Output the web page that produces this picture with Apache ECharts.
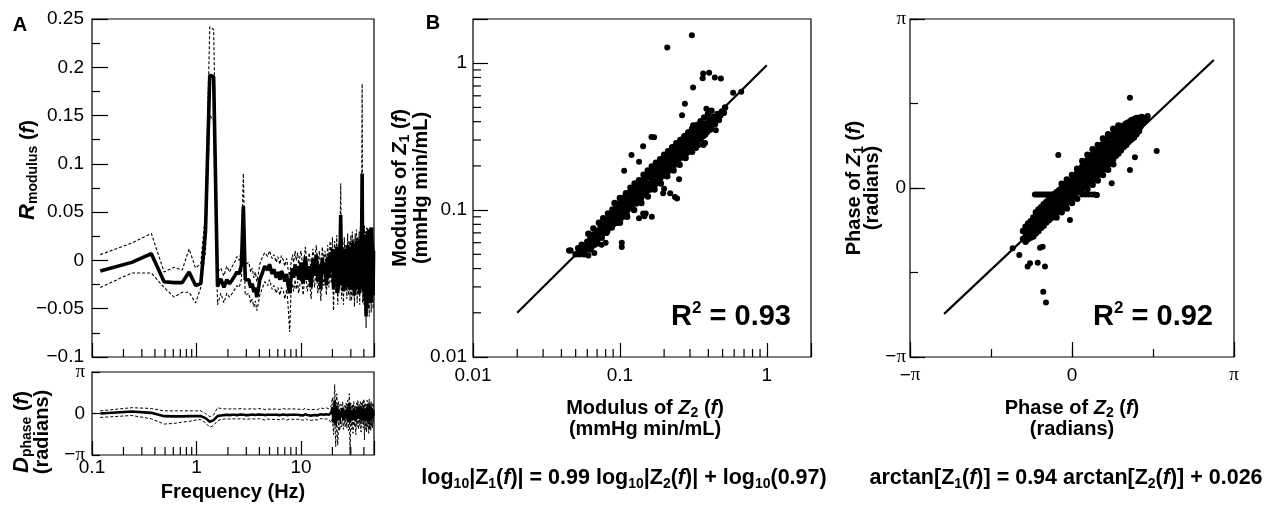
<!DOCTYPE html>
<html>
<head>
<meta charset="utf-8">
<script src="https://cdn.jsdelivr.net/npm/echarts@6/dist/echarts.min.js"></script>
<style>
  html, body { margin: 0; padding: 0; background: #fff; }
  #chart { width: 1268px; height: 507px; }
</style>
</head>
<body>
<div id="chart"></div>
<script>
// frequency bins (Hz)
const freq = [
  0.12, 0.24, 0.37, 0.49, 0.61, 0.73, 0.85, 0.98, 1.1, 1.22, 1.34, 1.46, 1.59, 1.71, 1.83, 1.95, 2.07, 2.2, 2.32, 2.44,
  2.56, 2.69, 2.81, 2.93, 3.05, 3.17, 3.3, 3.42, 3.54, 3.66, 3.78, 3.91, 4.03,
  4.3, 4.5, 4.8, 5.0, 5.3, 5.5, 5.8, 6.0, 6.3, 6.5, 6.8, 7.0, 7.3, 7.5, 7.8, 8.0, 8.3, 8.5, 8.8, 9.0, 9.3, 9.5, 9.8,
  10, 10.5, 11, 11.5, 12, 12.5, 13, 13.5, 14, 14.5, 15, 15.5, 16, 16.5, 17, 17.5, 18, 18.5, 19, 19.5,
  20, 20.5, 21, 21.5, 22, 22.5, 23, 23.5, 24, 24.5, 25, 25.5, 26, 26.5, 27, 27.5, 28, 28.5, 29, 29.5,
  30, 30.5, 31, 31.5, 32, 32.5, 33, 33.5, 34, 34.5, 35, 35.5, 36, 36.5, 37, 37.5, 38, 38.5, 39, 39.5,
  40, 40.5, 41, 41.5, 42, 42.5, 43, 43.5, 44, 44.5, 45, 45.5, 46, 46.5, 47, 47.5, 48, 48.5, 49, 49.5
]

// R_modulus(f): mean and dashed band
const rMean = [
  -0.011, -0.002, 0.007, -0.022, -0.023, -0.023, -0.012, -0.026, -0.024, 0.03, 0.192, 0.19, -0.027, -0.019, -0.028, -0.02, -0.024, -0.02, -0.016, -0.012,
  -0.014, -0.005, 0.056, -0.02, -0.022, -0.02, -0.028, -0.024, -0.033, -0.028, -0.038, -0.03, -0.02,
  -0.012, -0.006, -0.01, -0.004, -0.014, -0.009, -0.018, -0.012, -0.02, -0.011, -0.016, -0.022, -0.014, -0.025, -0.034, -0.02, -0.008, -0.018, -0.004, -0.016, -0.006, -0.02, -0.01,
  -0.002, -0.024, 0.004, -0.02, -0.006, -0.028, 0.002, -0.016, 0.006, -0.022, -0.004, -0.03, 0.003, -0.014, -0.002, -0.026, 0.004, -0.018, 0.008, -0.012,
  0.012, -0.03, 0.01, -0.022, 0.014, -0.034, 0.006, -0.018, 0.047, -0.026, 0.01, -0.032, 0.012, -0.02, 0.004, -0.028, 0.016, -0.024, 0.008, -0.03,
  0.014, -0.03, 0.018, -0.026, 0.01, -0.036, 0.016, -0.02, 0.02, -0.03, 0.012, -0.024, 0.018, -0.034, 0.022, -0.02, 0.016, 0.09, -0.03, 0.02,
  -0.032, 0.024, -0.04, 0.018, -0.058, 0.026, -0.03, 0.03, -0.036, 0.02, -0.044, 0.032, -0.028, 0.022, -0.04, 0.034, -0.03, 0.016, -0.036, 0.01
]
const rUpper = [
  0.006, 0.018, 0.028, -0.012, -0.007, -0.01, 0.012, -0.008, -0.003, 0.05, 0.242, 0.239, -0.012, -0.008, -0.016, -0.006, -0.012, -0.006, -0.002, 0.004,
  0.0, 0.01, 0.09, -0.004, -0.006, -0.002, -0.012, -0.008, -0.018, -0.012, -0.022, -0.014, -0.004,
  0.004, 0.008, 0.004, 0.01, 0.002, 0.006, -0.002, 0.004, -0.004, 0.005, 0.0, -0.006, 0.002, -0.008, -0.016, -0.004, 0.006, -0.002, 0.01, 0.0, 0.008, -0.004, 0.005,
  0.01, -0.01, 0.014, -0.006, 0.008, -0.012, 0.012, -0.002, 0.016, -0.008, 0.01, -0.014, 0.014, 0.0, 0.01, -0.01, 0.016, -0.004, 0.02, 0.002,
  0.024, -0.016, 0.02, -0.008, 0.026, -0.018, 0.018, -0.004, 0.08, -0.012, 0.022, -0.016, 0.024, -0.006, 0.016, -0.014, 0.028, -0.01, 0.02, -0.014,
  0.026, -0.014, 0.03, -0.01, 0.022, -0.02, 0.028, -0.006, 0.032, -0.014, 0.024, -0.008, 0.03, -0.018, 0.034, -0.004, 0.028, 0.183, -0.014, 0.032,
  -0.016, 0.036, -0.022, 0.03, -0.04, 0.034, -0.014, 0.034, -0.02, 0.03, -0.028, 0.034, -0.012, 0.032, -0.024, 0.034, -0.014, 0.028, -0.02, 0.022
]
const rLower = [
  -0.028, -0.013, -0.013, -0.028, -0.038, -0.033, -0.033, -0.044, -0.028, 0.01, 0.15, 0.145, -0.046, -0.034, -0.044, -0.034, -0.038, -0.034, -0.03, -0.026,
  -0.028, -0.02, 0.03, -0.036, -0.038, -0.034, -0.044, -0.04, -0.048, -0.042, -0.052, -0.044, -0.036,
  -0.028, -0.022, -0.026, -0.02, -0.03, -0.026, -0.034, -0.028, -0.036, -0.028, -0.032, -0.04, -0.03, -0.044, -0.074, -0.036, -0.024, -0.032, -0.02, -0.03, -0.022, -0.034, -0.024,
  -0.014, -0.036, -0.01, -0.032, -0.018, -0.04, -0.012, -0.028, -0.008, -0.034, -0.016, -0.042, -0.01, -0.026, -0.014, -0.036, -0.008, -0.028, -0.004, -0.024,
  -0.004, -0.052, -0.004, -0.034, 0.0, -0.046, -0.008, -0.03, 0.02, -0.04, -0.004, -0.046, -0.002, -0.032, -0.008, -0.04, 0.002, -0.036, -0.006, -0.042,
  0.0, -0.042, 0.004, -0.038, -0.004, -0.048, 0.002, -0.032, 0.006, -0.044, -0.002, -0.036, 0.004, -0.046, 0.008, -0.032, 0.002, 0.03, -0.044, 0.006,
  -0.046, 0.01, -0.054, 0.004, -0.07, 0.012, -0.044, 0.016, -0.05, 0.006, -0.058, 0.018, -0.042, 0.008, -0.054, 0.02, -0.044, 0.002, -0.05, -0.004
]

// D_phase(f) in radians: mean and dashed band
const dMean = [
  0, 0.15, 0.05, -0.2, -0.22, -0.22, -0.2, -0.2, -0.2, -0.35, -0.62, -0.5, -0.2, -0.15, -0.12, -0.1, -0.12, -0.1, -0.1, -0.12,
  -0.1, -0.08, -0.1, -0.12, -0.1, -0.12, -0.1, -0.08, -0.1, -0.12, -0.1, -0.08, -0.1,
  -0.1, -0.12, -0.1, -0.08, -0.1, -0.12, -0.1, -0.1, -0.12, -0.1, -0.08, -0.1, -0.12, -0.1, -0.1, -0.12, -0.1, -0.08, -0.1, -0.12, -0.1, -0.1, -0.12,
  -0.08, -0.14, -0.06, -0.12, -0.1, -0.16, -0.05, -0.12, -0.08, -0.14, -0.1, -0.06, -0.15, -0.09, -0.12, -0.05, -0.14, -0.1, -0.2, 0.05,
  0.5, -0.7, 1.0, -0.9, 0.6, -0.5, 0.3, -0.6, 0.2, -0.3, 0.4, -0.5, 0.2, -0.4, 0.3, -0.3, 0.5, -0.6, 0.8, -0.7,
  0.3, -0.4, 0.2, -0.5, 0.4, -0.3, 0.2, -0.6, 0.3, -0.3, 0.5, -0.4, 0.2, -0.3, 0.4, -0.5, 0.3, -0.2, 0.4, -0.4,
  0.4, -0.6, 0.3, -0.4, 0.2, -0.5, 0.5, -0.3, 0.3, -0.6, 0.6, -0.4, 0.3, -0.5, 0.4, -0.3, 0.2, -0.4, 0.3, -0.2
]
const dUpper = [
  0.2, 0.44, 0.38, 0.2, 0.2, 0.2, 0.2, 0.2, 0.2, 0.0, -0.24, -0.1, 0.44, 0.38, 0.35, 0.36, 0.34, 0.36, 0.35, 0.34,
  0.36, 0.37, 0.35, 0.33, 0.36, 0.34, 0.35, 0.37, 0.35, 0.33, 0.36, 0.37, 0.35,
  0.35, 0.3, 0.34, 0.38, 0.32, 0.3, 0.35, 0.33, 0.3, 0.36, 0.38, 0.34, 0.3, 0.33, 0.36, 0.32, 0.35, 0.38, 0.34, 0.3, 0.33, 0.36, 0.32,
  0.38, 0.3, 0.4, 0.32, 0.36, 0.28, 0.42, 0.32, 0.38, 0.3, 0.36, 0.42, 0.28, 0.36, 0.33, 0.42, 0.3, 0.36, 0.45, 0.6,
  1.2, -0.2, 2.2, 0.3, 1.5, 0.2, 0.9, -0.1, 0.7, 0.3, 0.9, 0.1, 0.6, 0.2, 0.8, 0.3, 1.0, 0.1, 1.5, 0.0,
  0.8, 0.1, 0.7, 0.0, 0.9, 0.2, 0.6, -0.1, 0.8, 0.2, 1.0, 0.0, 0.7, 0.3, 0.9, -0.1, 0.8, 0.3, 0.9, 0.1,
  1.1, 0.0, 0.8, 0.1, 0.7, -0.1, 1.0, 0.2, 0.8, 0.0, 1.1, 0.1, 0.8, 0.0, 0.9, 0.2, 0.7, 0.1, 0.8, 0.2
]
const dLower = [
  -0.3, -0.15, -0.4, -0.8, -0.75, -0.65, -0.6, -0.5, -0.45, -0.7, -1.05, -0.9, -0.55, -0.45, -0.42, -0.4, -0.42, -0.4, -0.41, -0.43,
  -0.4, -0.39, -0.41, -0.43, -0.4, -0.42, -0.41, -0.39, -0.41, -0.43, -0.4, -0.39, -0.41,
  -0.45, -0.5, -0.42, -0.4, -0.46, -0.5, -0.44, -0.42, -0.48, -0.45, -0.4, -0.44, -0.5, -0.46, -0.42, -0.48, -0.44, -0.4, -0.45, -0.5, -0.43, -0.41, -0.47,
  -0.42, -0.5, -0.38, -0.48, -0.44, -0.52, -0.4, -0.46, -0.42, -0.5, -0.44, -0.38, -0.52, -0.44, -0.48, -0.4, -0.5, -0.46, -0.6, -0.7,
  -0.3, -1.6, 0.2, -2.5, -0.2, -2.4, -0.4, -1.3, -0.5, -1.0, -0.3, -1.2, -0.4, -1.0, -0.3, -1.1, -0.2, -1.3, 0.1, -3.1,
  -0.3, -1.2, -0.4, -1.5, -0.2, -1.0, -0.5, -1.6, -0.3, -1.0, -0.1, -1.2, -0.4, -0.9, -0.2, -1.4, -0.3, -0.8, -0.2, -1.1,
  -0.2, -2.0, -0.3, -1.2, -0.5, -1.4, -0.1, -1.0, -0.3, -1.5, 0.0, -1.2, -0.3, -1.3, -0.2, -1.0, -0.5, -1.1, -0.3, -0.8
]

// minor tick positions on the log axes
const freqMinorTicks = [0.2, 0.3, 0.4, 0.5, 0.6, 0.7, 0.8, 0.9, 2, 3, 4, 5, 6, 7, 8, 9, 20, 30, 40]
const modMinorTicks = [0.02, 0.03, 0.04, 0.05, 0.06, 0.07, 0.08, 0.09, 0.2, 0.3, 0.4, 0.5, 0.6, 0.7, 0.8, 0.9]

// B: modulus of Z2 (x) vs modulus of Z1 (y)
const modCore = [
  [0.046, 0.053], [0.05, 0.05], [0.052, 0.055], [0.053, 0.05], [0.055, 0.058], [0.056, 0.053], [0.057, 0.05], [0.058, 0.056],
  [0.06, 0.061], [0.06, 0.054], [0.062, 0.058], [0.063, 0.064], [0.064, 0.056], [0.065, 0.061], [0.066, 0.068], [0.067, 0.058],
  [0.068, 0.064], [0.07, 0.072], [0.07, 0.062], [0.071, 0.067], [0.073, 0.07], [0.074, 0.077], [0.075, 0.065], [0.076, 0.072],
  [0.078, 0.08], [0.079, 0.07], [0.08, 0.075], [0.081, 0.085], [0.082, 0.072], [0.083, 0.079], [0.085, 0.09], [0.086, 0.077],
  [0.087, 0.083], [0.088, 0.095], [0.09, 0.08], [0.09, 0.088], [0.092, 0.098], [0.093, 0.084], [0.095, 0.092], [0.096, 0.104],
  [0.097, 0.086], [0.098, 0.095], [0.1, 0.108], [0.1, 0.09], [0.102, 0.1], [0.104, 0.112], [0.105, 0.094], [0.106, 0.104],
  [0.108, 0.118], [0.11, 0.098], [0.111, 0.108], [0.113, 0.122], [0.114, 0.102], [0.116, 0.114], [0.118, 0.128], [0.12, 0.106],
  [0.121, 0.118], [0.123, 0.134], [0.125, 0.112], [0.126, 0.124], [0.128, 0.14], [0.13, 0.115], [0.132, 0.128], [0.134, 0.146],
  [0.136, 0.12], [0.138, 0.134], [0.14, 0.152], [0.142, 0.126], [0.144, 0.14], [0.147, 0.16], [0.149, 0.132], [0.151, 0.146],
  [0.154, 0.168], [0.156, 0.138], [0.158, 0.152], [0.161, 0.175], [0.163, 0.145], [0.166, 0.16], [0.169, 0.184], [0.171, 0.152],
  [0.174, 0.168], [0.177, 0.192], [0.18, 0.158], [0.183, 0.176], [0.186, 0.2], [0.189, 0.166], [0.192, 0.184], [0.196, 0.21],
  [0.199, 0.175], [0.203, 0.194], [0.207, 0.22], [0.21, 0.184], [0.214, 0.204], [0.218, 0.232], [0.222, 0.194], [0.226, 0.214],
  [0.23, 0.244], [0.234, 0.204], [0.238, 0.226], [0.243, 0.256], [0.247, 0.216], [0.252, 0.238], [0.257, 0.27], [0.261, 0.228],
  [0.266, 0.25], [0.272, 0.284], [0.277, 0.24], [0.282, 0.264], [0.288, 0.3], [0.293, 0.254], [0.299, 0.278], [0.305, 0.316],
  [0.31, 0.27], [0.316, 0.294], [0.322, 0.332], [0.328, 0.286], [0.335, 0.31], [0.342, 0.35], [0.348, 0.302], [0.355, 0.328],
  [0.362, 0.37], [0.369, 0.32], [0.376, 0.346], [0.384, 0.388], [0.391, 0.34], [0.399, 0.366], [0.408, 0.41], [0.416, 0.36],
  [0.425, 0.388], [0.434, 0.43], [0.443, 0.384], [0.452, 0.41], [0.462, 0.452], [0.472, 0.41], [0.482, 0.44], [0.495, 0.47],
  [0.51, 0.46], [0.52, 0.5],
  [0.092, 0.112], [0.1, 0.121], [0.11, 0.13], [0.118, 0.142], [0.126, 0.152], [0.135, 0.16], [0.145, 0.174], [0.155, 0.186],
  [0.165, 0.198], [0.176, 0.21], [0.188, 0.222], [0.2, 0.238], [0.213, 0.252], [0.227, 0.268], [0.242, 0.285], [0.258, 0.3],
  [0.275, 0.318], [0.292, 0.338], [0.31, 0.356], [0.33, 0.374],
  [0.1, 0.082], [0.112, 0.09], [0.125, 0.1], [0.14, 0.112], [0.155, 0.124], [0.172, 0.138], [0.19, 0.152], [0.21, 0.17],
  [0.232, 0.186], [0.255, 0.204], [0.28, 0.226], [0.31, 0.25], [0.34, 0.278],
  [0.061, 0.069], [0.066, 0.075], [0.072, 0.082], [0.077, 0.088], [0.083, 0.095], [0.089, 0.101], [0.095, 0.108], [0.101, 0.115],
  [0.107, 0.122], [0.114, 0.13], [0.121, 0.138], [0.129, 0.147], [0.137, 0.156], [0.146, 0.166], [0.155, 0.177], [0.164, 0.187],
  [0.174, 0.198], [0.185, 0.211], [0.196, 0.223], [0.208, 0.237], [0.221, 0.252], [0.235, 0.268], [0.249, 0.284], [0.264, 0.301],
  [0.28, 0.319], [0.297, 0.339], [0.315, 0.359], [0.334, 0.38], [0.354, 0.403], [0.375, 0.427], [0.398, 0.452], [0.42, 0.475],
  [0.063, 0.054], [0.069, 0.059], [0.075, 0.065], [0.081, 0.07], [0.088, 0.076], [0.095, 0.082], [0.103, 0.089], [0.111, 0.095],
  [0.12, 0.103], [0.129, 0.111], [0.139, 0.12], [0.15, 0.129], [0.161, 0.138], [0.173, 0.149], [0.186, 0.16], [0.2, 0.172],
  [0.215, 0.185], [0.231, 0.199], [0.248, 0.213], [0.266, 0.229], [0.286, 0.246], [0.307, 0.264], [0.33, 0.284], [0.354, 0.304],
  [0.38, 0.327], [0.41, 0.352]
]
const modOutliers = [
  [0.309, 1.55], [0.21, 1.28], [0.369, 0.85], [0.405, 0.86], [0.443, 0.8], [0.487, 0.787], [0.366, 0.79], [0.315, 0.683],
  [0.277, 0.53], [0.59, 0.63], [0.67, 0.64], [0.265, 0.443], [0.12, 0.237], [0.107, 0.185], [0.164, 0.315], [0.171, 0.313],
  [0.144, 0.272], [0.135, 0.213], [0.237, 0.123], [0.245, 0.12], [0.253, 0.162], [0.144, 0.095], [0.15, 0.095], [0.103, 0.06],
  [0.103, 0.056], [0.045, 0.053], [0.056, 0.05], [0.061, 0.049], [0.067, 0.051], [0.388, 0.49], [0.45, 0.35], [0.37, 0.277],
  [0.33, 0.265], [0.2, 0.14], [0.22, 0.13], [0.08, 0.06], [0.075, 0.058], [0.197, 0.13], [0.147, 0.091], [0.165, 0.09],
  [0.135, 0.088], [0.38, 0.286], [0.315, 0.378]
]
const modFit = [[0.02, 0.02], [1, 0.97]]

// C: phase of Z2 (x) vs phase of Z1 (y), radians
const phaseCore = [
  [-0.95, -0.95], [-0.95, -0.8], [-0.9, -0.72], [-0.9, -0.9], [-0.9, -1.0], [-0.85, -0.66], [-0.85, -0.84], [-0.85, -0.95],
  [-0.8, -0.62], [-0.8, -0.78], [-0.8, -0.92], [-0.75, -0.55], [-0.75, -0.72], [-0.75, -0.9], [-0.7, -0.45], [-0.7, -0.66],
  [-0.7, -0.84], [-0.65, -0.4], [-0.65, -0.6], [-0.65, -0.8], [-0.6, -0.36], [-0.6, -0.55], [-0.6, -0.74], [-0.55, -0.3],
  [-0.55, -0.5], [-0.55, -0.7], [-0.5, -0.26], [-0.5, -0.46], [-0.5, -0.64], [-0.45, -0.2], [-0.45, -0.42], [-0.45, -0.6],
  [-0.4, -0.16], [-0.4, -0.36], [-0.4, -0.56], [-0.35, -0.12], [-0.35, -0.32], [-0.35, -0.5], [-0.3, -0.08], [-0.3, -0.27],
  [-0.3, -0.46], [-0.25, -0.04], [-0.25, -0.22], [-0.25, -0.42], [-0.2, 0.0], [-0.2, -0.18], [-0.2, -0.36], [-0.15, 0.04],
  [-0.15, -0.14], [-0.15, -0.32], [-0.1, 0.08], [-0.1, -0.1], [-0.1, -0.28], [-0.05, 0.1], [-0.05, -0.05], [-0.05, -0.22],
  [0, 0.14], [0, 0.0], [0, -0.18], [0.05, 0.2], [0.05, 0.04], [0.05, -0.12], [0.1, 0.28], [0.1, 0.09], [0.1, -0.08],
  [0.15, 0.34], [0.15, 0.14], [0.15, -0.04], [0.2, 0.4], [0.2, 0.18], [0.2, 0.0], [0.25, 0.46], [0.25, 0.23], [0.25, 0.04],
  [0.3, 0.52], [0.3, 0.27], [0.3, 0.08], [0.35, 0.58], [0.35, 0.32], [0.35, 0.12], [0.4, 0.62], [0.4, 0.36], [0.4, 0.16],
  [0.45, 0.66], [0.45, 0.41], [0.45, 0.2], [0.5, 0.7], [0.5, 0.45], [0.5, 0.24], [0.55, 0.76], [0.55, 0.5], [0.55, 0.3],
  [0.6, 0.82], [0.6, 0.54], [0.6, 0.34], [0.65, 0.86], [0.65, 0.6], [0.65, 0.4], [0.7, 0.9], [0.7, 0.64], [0.7, 0.44],
  [0.75, 0.96], [0.75, 0.68], [0.75, 0.5], [0.8, 1.0], [0.8, 0.72], [0.8, 0.54], [0.85, 1.04], [0.85, 0.78], [0.85, 0.6],
  [0.9, 1.08], [0.9, 0.82], [0.9, 0.64], [0.95, 1.12], [0.95, 0.86], [0.95, 0.7], [1.0, 1.16], [1.0, 0.9], [1.0, 0.76],
  [1.05, 1.2], [1.05, 0.96], [1.05, 0.8], [1.1, 1.22], [1.1, 1.0], [1.1, 0.86], [1.15, 1.26], [1.15, 1.04], [1.15, 0.9],
  [1.2, 1.28], [1.2, 1.08], [1.2, 0.94], [1.25, 1.3], [1.25, 1.12], [1.25, 1.0], [1.3, 1.3], [1.3, 1.16], [1.3, 1.06],
  [1.35, 1.32], [1.35, 1.22], [1.4, 1.3], [1.4, 1.26], [1.45, 1.28],
  [-0.875, -0.78], [-0.875, -0.92], [-0.825, -0.72], [-0.825, -0.87], [-0.775, -0.67], [-0.775, -0.83], [-0.725, -0.6], [-0.725, -0.78],
  [-0.675, -0.53], [-0.675, -0.72], [-0.625, -0.48], [-0.625, -0.67], [-0.575, -0.43], [-0.575, -0.62], [-0.525, -0.38], [-0.525, -0.56],
  [-0.475, -0.34], [-0.475, -0.53], [-0.425, -0.28], [-0.425, -0.48], [-0.375, -0.24], [-0.375, -0.44], [-0.325, -0.2], [-0.325, -0.39],
  [-0.275, -0.15], [-0.275, -0.34], [-0.225, -0.11], [-0.225, -0.3], [-0.175, -0.07], [-0.175, -0.25], [-0.125, -0.03], [-0.125, -0.21],
  [-0.075, 0.01], [-0.075, -0.16], [-0.025, 0.05], [-0.025, -0.11], [0.025, 0.1], [0.025, -0.07], [0.075, 0.15], [0.075, -0.02],
  [0.125, 0.21], [0.125, 0.03], [0.175, 0.27], [0.175, 0.08], [0.225, 0.32], [0.225, 0.11], [0.275, 0.37], [0.275, 0.16],
  [0.325, 0.42], [0.325, 0.2], [0.375, 0.47], [0.375, 0.24], [0.425, 0.51], [0.425, 0.28], [0.475, 0.56], [0.475, 0.33],
  [0.525, 0.6], [0.525, 0.37], [0.575, 0.66], [0.575, 0.42], [0.625, 0.7], [0.625, 0.47], [0.675, 0.75], [0.675, 0.52],
  [0.725, 0.8], [0.725, 0.56], [0.775, 0.84], [0.775, 0.61], [0.825, 0.88], [0.825, 0.66], [0.875, 0.93], [0.875, 0.71],
  [0.925, 0.97], [0.925, 0.75], [0.975, 1.01], [0.975, 0.8], [1.025, 1.06], [1.025, 0.86], [1.075, 1.1], [1.075, 0.9],
  [1.125, 1.13], [1.125, 0.95], [1.175, 1.16], [1.175, 0.99], [1.225, 1.2], [1.225, 1.04], [1.275, 1.22], [1.275, 1.08],
  [1.325, 1.25], [1.325, 1.14],
  [-0.2, 0.08], [-0.1, 0.16], [0.0, 0.24], [0.1, 0.36], [0.2, 0.5], [0.3, 0.62], [0.4, 0.72], [0.5, 0.8], [0.6, 0.92],
  [0.7, 1.0], [0.8, 1.1], [0.9, 1.16], [-0.3, -0.55], [-0.2, -0.45], [-0.1, -0.38], [0.0, -0.28], [0.1, -0.2], [0.2, -0.1],
  [0.3, -0.02], [0.4, 0.06], [0.5, 0.14], [0.6, 0.24], [0.7, 0.34], [0.8, 0.44]
]
const phaseStreak = [
  [-0.72, -0.12], [-0.68, -0.12], [-0.64, -0.12], [-0.6, -0.12], [-0.56, -0.12], [-0.52, -0.12], [-0.48, -0.12], [-0.44, -0.12],
  [-0.4, -0.12], [-0.36, -0.12], [-0.32, -0.12], [0.2, -0.12], [0.26, -0.12], [0.32, -0.12], [0.38, -0.12], [0.44, -0.12], [0.48, -0.13]
]
const phaseOutliers = [
  [1.124, 1.678], [-0.266, 0.613], [1.642, 0.687], [1.124, 0.334], [1.22, 0.57], [0.8, 1.09], [1.468, 1.338], [0.77, 0.087],
  [0.479, -0.13], [-0.04, -0.595], [-0.879, -0.843], [-1.022, -1.246], [-0.815, -1.4], [-0.86, -1.46], [-0.665, -1.39],
  [-0.524, -1.46], [-0.62, -1.11], [-0.57, -1.09], [-0.557, -1.93], [-0.505, -2.13], [-1.15, -1.12]
]
const phaseFit = [[-2.48, -2.34], [2.75, 2.38]]

const PI = Math.PI
const SANS = 'Liberation Sans'
const SERIF = 'Liberation Serif'
const BLACK = '#000'
const tickLine = { color: BLACK, width: 1.2 }

const near = (a, b) => Math.abs(a - b) < 1e-9 * Math.max(1, Math.abs(b))
const minus = s => s.replace('-', '\u2212')

const labelBase = { color: BLACK, fontFamily: SANS, fontSize: 19 }
const piRich = { p: { fontFamily: SERIF, fontSize: 19, color: BLACK } }
const piFormatter = v => (near(v, PI) ? '{p|π}' : near(v, -PI) ? '\u2212{p|π}' : near(v, 0) ? '0' : '')
const decadeFormatter = list => v => (list.some(t => near(v, t)) ? String(+v.toPrecision(3)) : '')

function axis(gridIndex, pos, extra) {
  return Object.assign({
    gridIndex,
    position: pos,
    offset: 0,
    axisLine: { show: false, onZero: false },
    splitLine: { show: false },
    axisTick: { inside: true, length: 14, lineStyle: tickLine }
  }, extra)
}

// short ticks at 2..9 multiples on log axes, placed through the axis scale
function minorTicks(xi, yi, values, dir, fixed, len) {
  return {
    type: 'custom',
    xAxisIndex: xi,
    yAxisIndex: yi,
    silent: true,
    clip: false,
    data: values.map(v => (dir === 'x' ? [v, fixed] : [fixed, v])),
    renderItem: (params, api) => {
      const p = api.coord([api.value(0), api.value(1)])
      const q = dir === 'x' ? [p[0], p[1] - len] : [p[0] + len, p[1]]
      return {
        type: 'line',
        shape: { x1: p[0], y1: p[1], x2: q[0], y2: q[1] },
        style: { stroke: BLACK, lineWidth: 1.2 }
      }
    }
  }
}

const lineSeries = (xi, yi, ys, width, dashed) => ({
  type: 'line',
  xAxisIndex: xi,
  yAxisIndex: yi,
  data: freq.map((f, i) => [f, ys[i]]),
  showSymbol: false,
  silent: true,
  lineStyle: { color: BLACK, width, type: dashed ? [3, 2] : 'solid' },
  z: dashed ? 3 : 4
})

const dotSeries = (xi, yi, data, size) => ({
  type: 'scatter',
  xAxisIndex: xi,
  yAxisIndex: yi,
  data,
  symbolSize: size,
  silent: true,
  itemStyle: { color: BLACK, opacity: 1 }
})

const fitSeries = (xi, yi, data) => ({
  type: 'line',
  xAxisIndex: xi,
  yAxisIndex: yi,
  data,
  showSymbol: false,
  silent: true,
  lineStyle: { color: BLACK, width: 2.2 },
  z: 5
})

// rich text styles for titles
const T = 20
const E = 21.5
const st = (size, extra) => Object.assign({ fontFamily: SANS, fontWeight: 'bold', fontSize: size, fill: BLACK, color: BLACK }, extra)
const rich = {
  b: st(T, { lineHeight: 24 }),
  bi: st(T, { fontStyle: 'italic', lineHeight: 24 }),
  big: st(22, { fontStyle: 'italic', lineHeight: 24 }),
  sub: st(14, { lineHeight: 15, verticalAlign: 'bottom' }),
  e: st(E, { lineHeight: 26 }),
  ei: st(E, { fontStyle: 'italic', lineHeight: 26 }),
  es: st(14, { lineHeight: 15, verticalAlign: 'bottom' }),
  r: st(29, { lineHeight: 34 }),
  sup: st(17, { lineHeight: 17, verticalAlign: 'top' })
}

function text(x, y, str, rotate) {
  return {
    type: 'text',
    x,
    y,
    rotation: rotate ? PI / 2 : 0,
    silent: true,
    style: {
      text: str,
      rich,
      fill: BLACK,
      fontFamily: SANS,
      fontWeight: 'bold',
      fontSize: T,
      align: 'center',
      verticalAlign: 'middle',
      textAlign: 'center',
      textVerticalAlign: 'middle'
    }
  }
}

const chart = echarts.init(document.getElementById('chart'), null, { renderer: 'canvas' })

const gridStyle = { show: true, borderColor: BLACK, borderWidth: 1.2, backgroundColor: 'transparent' }

const option = {
  animation: false,
  backgroundColor: '#fff',
  grid: [
    Object.assign({ left: 92, top: 19, width: 282, height: 338 }, gridStyle),
    Object.assign({ left: 92, top: 372, width: 282, height: 83 }, gridStyle),
    Object.assign({ left: 473, top: 19, width: 338, height: 338 }, gridStyle),
    Object.assign({ left: 910, top: 19, width: 324, height: 338 }, gridStyle)
  ],
  xAxis: [
    axis(0, 'bottom', { type: 'log', logBase: 10, min: 0.1, max: 50, axisLabel: { show: false } }),
    axis(1, 'bottom', {
      type: 'log', logBase: 10, min: 0.1, max: 50,
      axisLabel: Object.assign({ margin: 3, formatter: decadeFormatter([0.1, 1, 10]) }, labelBase)
    }),
    axis(2, 'bottom', {
      type: 'log', logBase: 10, min: 0.01, max: 2,
      axisLabel: Object.assign({ margin: 9, formatter: decadeFormatter([0.01, 0.1, 1]) }, labelBase)
    }),
    axis(3, 'bottom', {
      type: 'value', min: -PI, max: PI, interval: PI / 2,
      axisTick: { inside: true, length: 8, lineStyle: tickLine },
      axisLabel: Object.assign({ margin: 9, formatter: piFormatter, rich: piRich }, labelBase)
    }),
    axis(3, 'bottom', {
      type: 'value', min: -PI, max: PI, interval: PI,
      axisTick: { inside: true, length: 15, lineStyle: tickLine },
      axisLabel: { show: false }
    })
  ],
  yAxis: [
    axis(0, 'left', {
      type: 'value', min: -0.1, max: 0.25, interval: 0.05,
      axisTick: { inside: true, length: 16, lineStyle: tickLine },
      minorTick: { show: true, splitNumber: 2, length: 8, lineStyle: tickLine },
      axisLabel: Object.assign({ margin: 8, formatter: v => minus(String(Math.round(v * 1000) / 1000)) }, labelBase)
    }),
    axis(1, 'left', {
      type: 'value', min: -PI, max: PI, interval: PI,
      axisTick: { inside: true, length: 8, lineStyle: tickLine },
      axisLabel: Object.assign({ margin: 7, formatter: piFormatter, rich: piRich }, labelBase)
    }),
    axis(2, 'left', {
      type: 'log', logBase: 10, min: 0.01, max: 2,
      axisTick: { inside: true, length: 15, lineStyle: tickLine },
      axisLabel: Object.assign({ margin: 6, formatter: decadeFormatter([0.01, 0.1, 1]) }, labelBase)
    }),
    axis(3, 'left', {
      type: 'value', min: -PI, max: PI, interval: PI / 2,
      axisTick: { inside: true, length: 8, lineStyle: tickLine },
      axisLabel: Object.assign({ margin: 4, formatter: piFormatter, rich: piRich }, labelBase)
    }),
    axis(3, 'left', {
      type: 'value', min: -PI, max: PI, interval: PI,
      axisTick: { inside: true, length: 15, lineStyle: tickLine },
      axisLabel: { show: false }
    })
  ],
  series: [
    // A, top: R_modulus
    lineSeries(0, 0, rUpper, 1.1, true),
    lineSeries(0, 0, rLower, 1.1, true),
    lineSeries(0, 0, rMean, 3.6, false),
    minorTicks(0, 0, freqMinorTicks, 'x', -0.1, 8),
    // A, bottom: D_phase
    lineSeries(1, 1, dUpper, 1, true),
    lineSeries(1, 1, dLower, 1, true),
    lineSeries(1, 1, dMean, 2.6, false),
    minorTicks(1, 1, freqMinorTicks, 'x', -PI, 8),
    // B: modulus scatter
    dotSeries(2, 2, modCore, 6.5),
    dotSeries(2, 2, modOutliers, 6),
    fitSeries(2, 2, modFit),
    minorTicks(2, 2, modMinorTicks, 'x', 0.01, 8),
    minorTicks(2, 2, modMinorTicks, 'y', 0.01, 8),
    // C: phase scatter
    dotSeries(3, 3, phaseCore, 6.5),
    dotSeries(3, 3, phaseStreak, 6),
    dotSeries(3, 3, phaseOutliers, 6),
    fitSeries(3, 3, phaseFit)
  ],
  graphic: [
    text(20, 25, '{b|A}'),
    text(433, 23, '{b|B}'),
    text(28, 170, '{big|R}{sub|modulus}{b| (}{bi|f}{b|)}', true),
    text(22, 432, '{big|D}{sub|phase}{b| (}{bi|f}{b|)}', true),
    text(42, 432, '{b|(radians)}', true),
    text(233, 492, '{b|Frequency (Hz)}'),
    text(400, 188, '{b|Modulus of }{bi|Z}{sub|1}{b| (}{bi|f}{b|)}', true),
    text(421, 188, '{b|(mmHg min/mL)}', true),
    text(645, 408, '{b|Modulus of }{bi|Z}{sub|2}{b| (}{bi|f}{b|)}'),
    text(645, 429, '{b|(mmHg min/mL)}'),
    text(854, 188, '{b|Phase of }{bi|Z}{sub|1}{b| (}{bi|f}{b|)}', true),
    text(872, 188, '{b|(radians)}', true),
    text(1072, 408, '{b|Phase of }{bi|Z}{sub|2}{b| (}{bi|f}{b|)}'),
    text(1072, 429, '{b|(radians)}'),
    text(731, 317, '{r|R}{sup|2}{r| = 0.93}'),
    text(1153, 317, '{r|R}{sup|2}{r| = 0.92}'),
    text(624, 478, '{e|log}{es|10}{e||Z}{es|1}{e|(}{ei|f}{e|)| = 0.99 log}{es|10}{e||Z}{es|2}{e|(}{ei|f}{e|)| + log}{es|10}{e|(0.97)}'),
    text(1066, 478, '{e|arctan[Z}{es|1}{e|(}{ei|f}{e|)] = 0.94 arctan[Z}{es|2}{e|(}{ei|f}{e|)] + 0.026}')
  ]
}

chart.setOption(option)
</script>
</body>
</html>
